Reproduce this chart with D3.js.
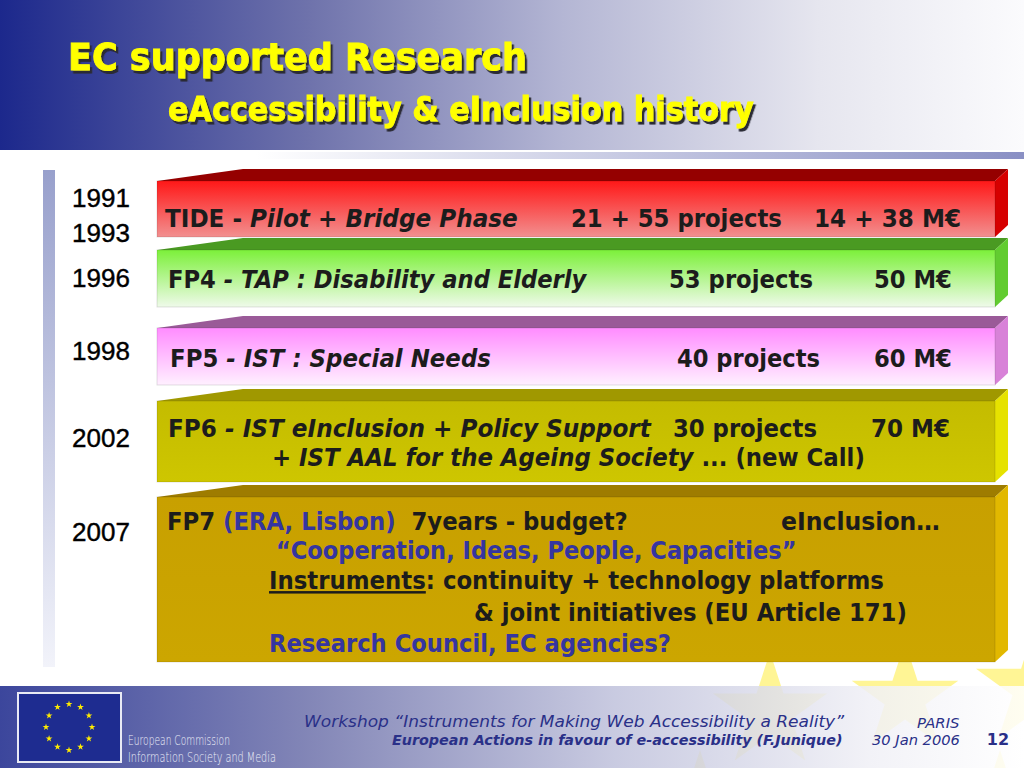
<!DOCTYPE html>
<html>
<head>
<meta charset="utf-8">
<script src="https://cdn.jsdelivr.net/npm/d3@7"></script>
<style>
  body { margin: 0; background: #fff; overflow: hidden; }
  text { white-space: pre; }
</style>
</head>
<body>
<svg id="slide" width="1024" height="768"></svg>
<script>
// ---- slide content ----
var periods = [["1991", "1993"], ["1996"], ["1998"], ["2002"], ["2007"]];
var programmes = ["TIDE", "FP4", "FP5", "FP6", "FP7"];
var projects = ["21 + 55 projects", "53 projects", "40 projects", "30 projects"];
var budgets = ["14 + 38 M€", "50 M€", "60 M€", "70 M€"];
var fp7Note = "eInclusion…";

// text lines inside each box (i = italic, b = blue, u = underline)
var rowLines = [
  [[{t: "TIDE - "}, {t: "Pilot + Bridge Phase", i: 1}]],
  [[{t: "FP4 "}, {t: "- TAP : Disability and Elderly", i: 1}]],
  [[{t: "FP5 "}, {t: "- IST : Special Needs", i: 1}]],
  [[{t: "FP6 "}, {t: "- IST eInclusion + Policy Support", i: 1}],
   [{t: "+ "}, {t: "IST AAL for the Ageing Society", i: 1}, {t: " ... (new Call)"}]],
  [[{t: "FP7 "}, {t: "(ERA, Lisbon)", b: 1}, {t: "  7years - budget?"}],
   [{t: "“Cooperation, Ideas, People, Capacities”", b: 1}],
   [{t: "Instruments", u: 1}, {t: ": continuity + technology platforms"}],
   [{t: "& joint initiatives (EU Article 171)"}],
   [{t: "Research Council, EC agencies?", b: 1}]]
];

// ---- layout ----
var W = 1024, H = 768;
var svg = d3.select("#slide");
var defs = svg.append("defs");

var boxTop = d3.scaleOrdinal().domain(programmes).range([181, 250, 328, 401, 497]);
var boxBottom = d3.scaleOrdinal().domain(programmes).range([237, 307, 385, 482, 662]);
var boxX = d3.scaleLinear().domain([0, 1]).range([157, 995]);
var depthX = 13, depthY = 12;

var palette = {
  TIDE: {top: "#950000", f0: "#ff1818", f1: "#f29090", side: "#d60000"},
  FP4:  {top: "#4a9a22", f0: "#7cf03a", f1: "#effaea", side: "#62cc30"},
  FP5:  {top: "#9a5a98", f0: "#ff8cff", f1: "#fff0ff", side: "#d882d8"},
  FP6:  {top: "#a09800", f0: "#c4bc00", f1: "#cec600", side: "#e6e200"},
  FP7:  {top: "#9e7c00", f0: "#c8a000", f1: "#cca600", side: "#e2b800"}
};

var lineX = [[165], [168], [170], [168, 272], [167, 276, 269, 474, 269]];
var lineW = [[353], [420], [321], [484, 593], [461, 521, 615, 433, 402]];
var lineY = [[227], [288], [367], [437, 466], [530, 559, 589, 621, 652]];
var projX = [571, 669, 677, 673], projW = [211, 144, 143, 144];
var budX = [814, 874, 874, 871], budW = [147, 78, 78, 79];
var yearY = [[207, 242], [287], [360], [447], [541]];

var ink = "#1c1c1c", blue = "#3535a0", navy = "#2a3088";

function fit(sel, x, w) {
  sel.each(function () {
    var bw = this.getBBox().width;
    if (bw > 0) {
      var k = w / bw;
      d3.select(this).attr("transform",
        "translate(" + x + ",0) scale(" + k + ",1) translate(" + (-x) + ",0)");
    }
  });
  return sel;
}

function grad(id, x1, y1, x2, y2, stops) {
  var g = defs.append("linearGradient").attr("id", id)
    .attr("x1", x1).attr("y1", y1).attr("x2", x2).attr("y2", y2);
  stops.forEach(function (s) {
    g.append("stop").attr("offset", s[0]).attr("stop-color", s[1]);
  });
}

function starPath(cx, cy, R) {
  var r = R * 0.382, pts = [];
  for (var k = 0; k < 10; k++) {
    var a = -Math.PI / 2 + k * Math.PI / 5;
    var rr = k % 2 ? r : R;
    pts.push([cx + rr * Math.cos(a), cy + rr * Math.sin(a)]);
  }
  return d3.line()(pts) + "Z";
}

// ---- gradients / filters ----
grad("hdr", 0, 0, 1, 0, [[0, "#1c288c"], [0.3, "#6e72ab"], [0.55, "#b4b6d4"], [0.8, "#e6e6ef"], [1, "#fbfbfd"]]);
grad("ftr", 0, 0, 1, 0, [[0, "#1c288c"], [0.3, "#6e72ab"], [0.6, "#c0c2dc"], [0.85, "#f0f0f6"], [1, "#ffffff"]]);
grad("rule", 0, 0, 1, 0, [[0, "#ffffff"], [0.25, "#ffffff"], [1, "#8a90c4"]]);
grad("vbar", 0, 0, 0, 1, [[0, "#98a0cc"], [1, "#f2f3fa"]]);
programmes.forEach(function (p) {
  grad("front-" + p, 0, 0, 0, 1, [[0, palette[p].f0], [1, palette[p].f1]]);
});
defs.append("filter").attr("id", "shadow").attr("x", "-5%").attr("y", "-20%")
  .attr("width", "110%").attr("height", "150%")
  .append("feDropShadow").attr("dx", 2.5).attr("dy", 3).attr("stdDeviation", 0.4)
  .attr("flood-color", "#2a2a34").attr("flood-opacity", 1);

// ---- background ----
svg.append("rect").attr("width", W).attr("height", H).attr("fill", "#fff");
svg.append("rect").attr("width", W).attr("height", 150).attr("fill", "url(#hdr)");
svg.append("rect").attr("y", 152).attr("width", W).attr("height", 7).attr("fill", "url(#rule)");

// pale EU stars in the lower right
var bgStars = [[770, 712, 60], [905, 698, 56], [1035, 688, 62], [700, 800, 50], [1000, 800, 50]];
svg.append("g").selectAll("path").data(bgStars).join("path")
  .attr("d", function (d) { return starPath(d[0], d[1], d[2]); })
  .attr("fill", "#fff27a").attr("opacity", 0.8);

svg.append("rect").attr("y", 686).attr("width", W).attr("height", H - 686)
  .attr("fill", "url(#ftr)").attr("opacity", 0.86);

svg.append("rect").attr("x", 43).attr("y", 170).attr("width", 12).attr("height", 497)
  .attr("fill", "url(#vbar)");

// ---- title ----
function title(txt, x, y, size, w) {
  var t = svg.append("text").attr("x", x).attr("y", y)
    .attr("font-family", "DejaVu Sans").attr("font-weight", "bold")
    .attr("font-size", size).attr("fill", "#ffff00")
    .attr("stroke", "#ffff00").attr("stroke-width", 0.9)
    .attr("filter", "url(#shadow)").text(txt);
  fit(t, x, w);
}
title("EC supported Research", 68, 70, 38, 459);
title("eAccessibility & eInclusion history", 168, 121, 33, 586);

// ---- boxes ----
var boxes = svg.append("g").selectAll("g").data(programmes).join("g");
var x0 = boxX(0), x1 = boxX(1);
boxes.append("path") // top face
  .attr("d", function (p) {
    var t = boxTop(p);
    return "M" + x0 + "," + t + "L" + (x0 + 86) + "," + (t - depthY) +
      "L" + (x1 + depthX) + "," + (t - depthY) + "L" + x1 + "," + t + "Z";
  })
  .attr("fill", function (p) { return palette[p].top; });
boxes.append("path") // side face
  .attr("d", function (p) {
    var t = boxTop(p), b = boxBottom(p);
    return "M" + x1 + "," + t + "L" + (x1 + depthX) + "," + (t - depthY) +
      "L" + (x1 + depthX) + "," + (b - depthY) + "L" + x1 + "," + b + "Z";
  })
  .attr("fill", function (p) { return palette[p].side; });
boxes.append("rect") // front face
  .attr("x", x0).attr("y", boxTop)
  .attr("width", x1 - x0)
  .attr("height", function (p) { return boxBottom(p) - boxTop(p); })
  .attr("fill", function (p) { return "url(#front-" + p + ")"; })
  .attr("stroke", "rgba(0,0,0,0.12)").attr("stroke-width", 1);

// ---- box texts ----
var txt = svg.append("g").attr("font-family", "DejaVu Sans").attr("font-weight", "bold")
  .attr("font-size", 25).attr("fill", ink);

rowLines.forEach(function (lines, r) {
  lines.forEach(function (segs, l) {
    var t = txt.append("text").attr("x", lineX[r][l]).attr("y", lineY[r][l]);
    t.selectAll("tspan").data(segs).join("tspan")
      .attr("font-style", function (d) { return d.i ? "italic" : null; })
      .attr("fill", function (d) { return d.b ? blue : null; })
      .attr("text-decoration", function (d) { return d.u ? "underline" : null; })
      .text(function (d) { return d.t; });
    fit(t, lineX[r][l], lineW[r][l]);
  });
});

txt.selectAll("text.proj").data(projects).join("text").attr("class", "proj")
  .attr("x", function (d, i) { return projX[i]; })
  .attr("y", function (d, i) { return lineY[i][0]; })
  .text(function (d) { return d; })
  .each(function (d, i) { fit(d3.select(this), projX[i], projW[i]); });

txt.selectAll("text.bud").data(budgets).join("text").attr("class", "bud")
  .attr("x", function (d, i) { return budX[i]; })
  .attr("y", function (d, i) { return lineY[i][0]; })
  .text(function (d) { return d; })
  .each(function (d, i) { fit(d3.select(this), budX[i], budW[i]); });

var note = txt.append("text").attr("x", 781).attr("y", lineY[4][0]).text(fp7Note);
fit(note, 781, 159);

// ---- year labels ----
var yrs = svg.append("g").attr("font-family", "Liberation Sans, Arial")
  .attr("font-size", 26).attr("fill", "#000").attr("text-anchor", "middle")
  .attr("stroke", "#000").attr("stroke-width", 0.4);
periods.forEach(function (ys, r) {
  ys.forEach(function (y, k) {
    yrs.append("text").attr("x", 101).attr("y", yearY[r][k]).text(y);
  });
});

// ---- footer ----
svg.append("rect").attr("x", 18).attr("y", 693).attr("width", 103).attr("height", 69)
  .attr("fill", "#1e2c90").attr("stroke", "#e8eaf4").attr("stroke-width", 2);
var euStars = d3.range(12);
svg.append("g").selectAll("path").data(euStars).join("path")
  .attr("d", function (k) {
    var a = k * Math.PI / 6;
    return starPath(69 + 23 * Math.sin(a), 727 - 23 * Math.cos(a), 3.6);
  })
  .attr("fill", "#ffec00");

var ec = svg.append("g").attr("font-family", "DejaVu Sans").attr("font-size", 14.5)
  .attr("font-weight", 300).attr("fill", "#eceef8");
fit(ec.append("text").attr("x", 128).attr("y", 745).text("European Commission"), 128, 102);
fit(ec.append("text").attr("x", 128).attr("y", 762).text("Information Society and Media"), 128, 148);

var ft = svg.append("g").attr("font-family", "DejaVu Sans").attr("fill", navy);
fit(ft.append("text").attr("x", 304).attr("y", 727).attr("font-size", 16.5).attr("font-style", "italic")
  .text("Workshop “Instruments for Making Web Accessibility a Reality”"), 304, 541);
fit(ft.append("text").attr("x", 392).attr("y", 745).attr("font-size", 13.5).attr("font-style", "italic")
  .attr("font-weight", "bold")
  .text("European Actions in favour of e-accessibility (F.Junique)"), 392, 451);
fit(ft.append("text").attr("x", 917).attr("y", 728).attr("font-size", 13.5).attr("font-style", "italic")
  .text("PARIS"), 917, 43);
fit(ft.append("text").attr("x", 872).attr("y", 745).attr("font-size", 13.5).attr("font-style", "italic")
  .text("30 Jan 2006"), 872, 88);
ft.append("text").attr("x", 998).attr("y", 745).attr("font-size", 16).attr("font-weight", "bold")
  .attr("text-anchor", "middle").text("12");
</script>
</body>
</html>
